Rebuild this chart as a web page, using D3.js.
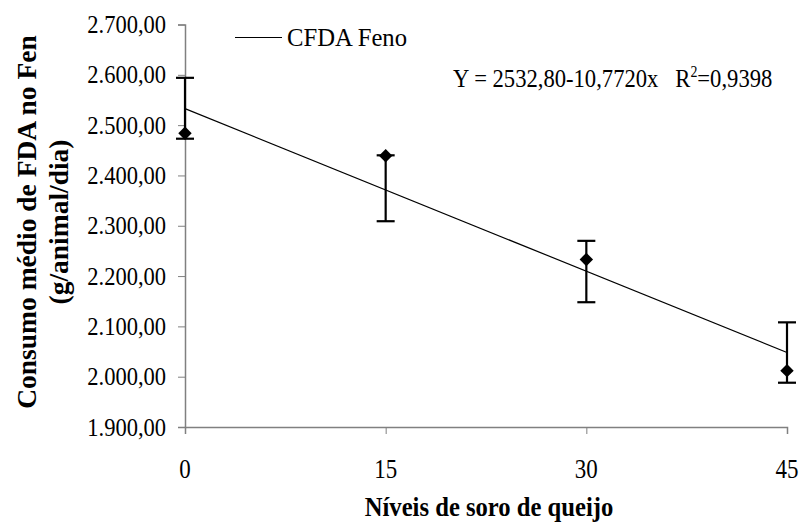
<!DOCTYPE html>
<html><head><meta charset="utf-8">
<script src="https://cdn.jsdelivr.net/npm/d3@7"></script>
<style>body{margin:0;background:#fff}svg{display:block}
svg text{font-family:"Liberation Serif","Tinos","Times New Roman",Times,"DejaVu Serif","Noto Serif",serif !important;fill:#000}</style>
</head><body><svg id="c" width="803" height="531"></svg>
<script>
const levels = [0, 15, 30, 45];
const means = [2484, 2439, 2233, 2012];
const errUpper = [2594, 2440, 2270, 2108];
const errLower = [2473, 2309, 2148, 1988];
const yTicks = [1900, 2000, 2100, 2200, 2300, 2400, 2500, 2600, 2700];
const fitIntercept = 2532.80, fitSlope = -10.7720;

const svg = d3.select("#c");
const x = d3.scaleLinear().domain([0, 45]).range([185, 787]);
const y = d3.scaleLinear().domain([1900, 2700]).range([427, 24.5]);
const fmt = v => d3.format(",.2f")(v).replace(/,/g, "#").replace(".", ",").replace(/#/g, ".");

const ya = svg.append("g").attr("transform", "translate(185,0)")
  .call(d3.axisLeft(y).tickValues(yTicks).tickSize(7).tickFormat(""));
ya.select(".domain").attr("stroke", "#808080").attr("stroke-width", 1.5);
ya.selectAll(".tick line").attr("stroke", "#808080");
svg.append("g").selectAll("text").data(yTicks).join("text")
  .attr("transform", d => `translate(166,${y(d) + 8.5}) scale(0.9,1)`)
  .attr("text-anchor", "end").style("font-size", "25px").text(fmt);

const xa = svg.append("g").attr("transform", "translate(0,427)")
  .call(d3.axisBottom(x).tickValues(levels).tickSize(7).tickFormat(""));
xa.select(".domain").attr("stroke", "#808080").attr("stroke-width", 1.5);
xa.selectAll(".tick line").attr("stroke", "#808080");
svg.append("g").selectAll("text").data(levels).join("text")
  .attr("transform", d => `translate(${x(d)},478) scale(0.85,1)`)
  .attr("text-anchor", "middle").style("font-size", "27px").text(d3.format("d"));

// regression line
svg.append("line")
  .attr("x1", x(0)).attr("y1", y(fitIntercept))
  .attr("x2", x(45)).attr("y2", y(fitIntercept + fitSlope * 45))
  .attr("stroke", "#000").attr("stroke-width", 1.2);

// error bars
const eb = svg.append("g").attr("stroke", "#000").attr("stroke-width", 2.2);
levels.forEach((l, i) => {
  eb.append("line").attr("x1", x(l)).attr("x2", x(l)).attr("y1", y(errUpper[i])).attr("y2", y(errLower[i]));
  eb.append("line").attr("x1", x(l) - 9).attr("x2", x(l) + 9).attr("y1", y(errUpper[i])).attr("y2", y(errUpper[i]));
  eb.append("line").attr("x1", x(l) - 9).attr("x2", x(l) + 9).attr("y1", y(errLower[i])).attr("y2", y(errLower[i]));
});

// diamonds
svg.append("g").selectAll("path").data(levels).join("path")
  .attr("transform", (d, i) => `translate(${x(d)},${y(means[i])})`)
  .attr("d", d3.symbol().type(d3.symbolDiamond2).size(115))
  .attr("fill", "#000");

// legend
svg.append("line").attr("x1", 235).attr("x2", 282).attr("y1", 37.5).attr("y2", 37.5).attr("stroke", "#000").attr("stroke-width", 1);
svg.append("text").attr("transform", "translate(287,46) scale(0.95,1)").style("font-size", "26px").text("CFDA Feno");

// equation
const eq = svg.append("text").attr("transform", "translate(453,87) scale(0.87,1)").style("font-size", "26px");
eq.append("tspan").text("Y = 2532,80-10,7720x\u00A0\u00A0\u00A0R");
eq.append("tspan").attr("dy", -10).style("font-size", "16px").text("2");
eq.append("tspan").attr("dy", 10).text("=0,9398");

// axis titles
const yt = svg.append("text").attr("transform", "translate(0,222) rotate(-90)")
  .attr("text-anchor", "middle").style("font-size", "27.5px").style("font-weight", "bold");
yt.append("tspan").attr("x", 0).attr("y", 36).text("Consumo médio de FDA no Fen");
yt.append("tspan").attr("x", 0).attr("y", 68).text("(g/animal/dia)");

svg.append("text").attr("transform", "translate(489,516) scale(0.88,1)").attr("text-anchor", "middle")
  .style("font-size", "28px").style("font-weight", "bold")
  .text("Níveis de soro de queijo");
</script></body></html>
